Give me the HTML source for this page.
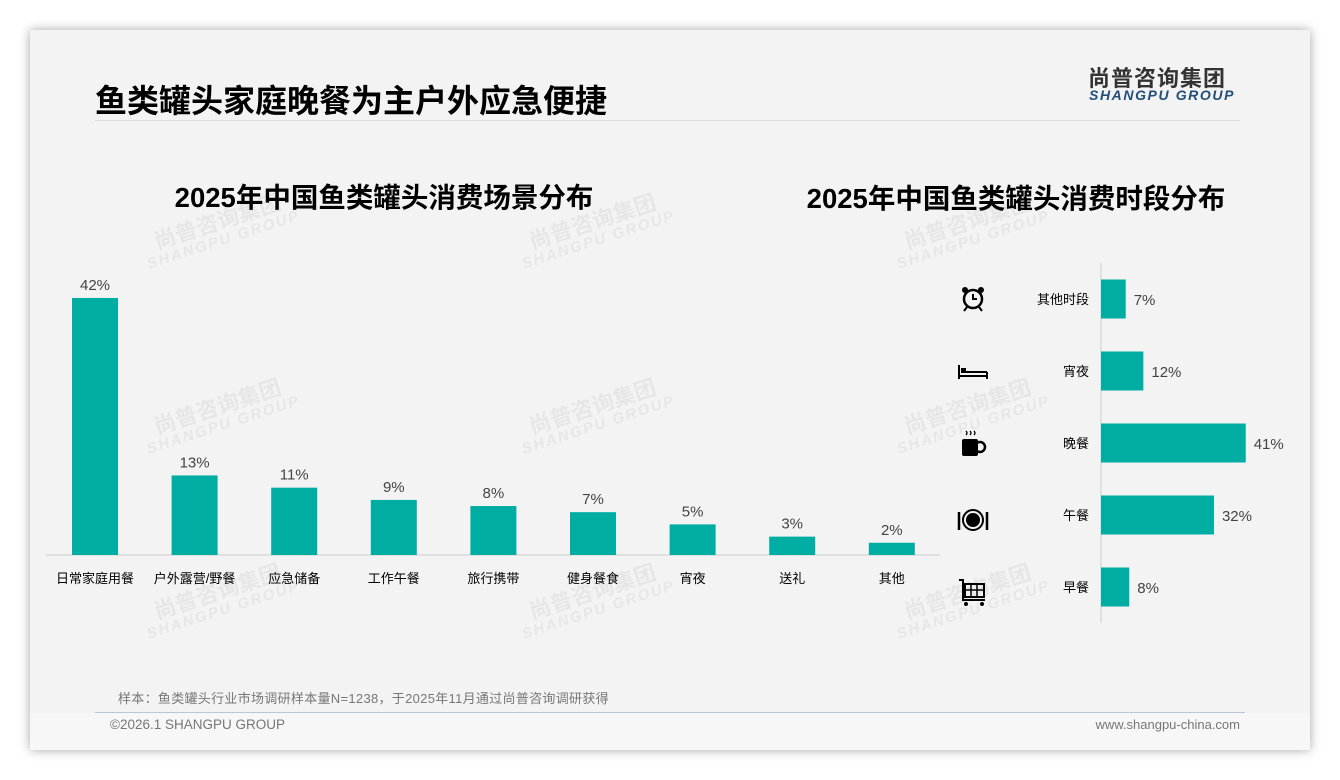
<!DOCTYPE html>
<html><head><meta charset="utf-8"><style>
body{margin:0;width:1340px;height:780px;background:#fff;font-family:"Liberation Sans","Noto Sans CJK SC",sans-serif;position:relative;overflow:hidden}
#card{position:absolute;left:30px;top:30px;width:1280px;height:720px;background:#f3f3f3;box-shadow:0 0 10px rgba(0,0,0,.35)}
.abs{position:absolute;white-space:nowrap}
.wm{position:absolute;color:rgba(0,0,0,.05);font-weight:bold;transform:rotate(-18deg);line-height:1.05;font-size:22px;text-align:center}
.wm span{font-size:15px;letter-spacing:2px;display:block;font-style:italic}
</style></head><body>
<div id="card"></div>
<div class="abs" style="left:95px;top:76px;font-size:32px;font-weight:bold;color:#000">鱼类罐头家庭晚餐为主户外应急便捷</div>
<div class="abs" style="left:1088px;top:61px;font-size:22px;font-weight:bold;color:#333;letter-spacing:1px">尚普咨询集团</div>
<div class="abs" style="left:1089px;top:87px;font-size:14px;font-weight:bold;font-style:italic;color:#1f4e79;letter-spacing:1.6px">SHANGPU GROUP</div>
<div class="abs" style="left:95px;top:120px;width:1145px;height:1px;background:#ddd"></div>
<div class="wm" style="left:140px;top:210px">尚普咨询集团<span>SHANGPU GROUP</span></div>
<div class="wm" style="left:515px;top:210px">尚普咨询集团<span>SHANGPU GROUP</span></div>
<div class="wm" style="left:890px;top:210px">尚普咨询集团<span>SHANGPU GROUP</span></div>
<div class="wm" style="left:140px;top:395px">尚普咨询集团<span>SHANGPU GROUP</span></div>
<div class="wm" style="left:515px;top:395px">尚普咨询集团<span>SHANGPU GROUP</span></div>
<div class="wm" style="left:890px;top:395px">尚普咨询集团<span>SHANGPU GROUP</span></div>
<div class="wm" style="left:140px;top:580px">尚普咨询集团<span>SHANGPU GROUP</span></div>
<div class="wm" style="left:515px;top:580px">尚普咨询集团<span>SHANGPU GROUP</span></div>
<div class="wm" style="left:890px;top:580px">尚普咨询集团<span>SHANGPU GROUP</span></div>
<div class="abs" style="left:384px;top:175px;transform:translateX(-50%);font-size:27.5px;font-weight:bold;color:#000">2025年中国鱼类罐头消费场景分布</div>
<div class="abs" style="left:1016px;top:176px;transform:translateX(-50%);font-size:27.5px;font-weight:bold;color:#000">2025年中国鱼类罐头消费时段分布</div>
<svg id="chart" width="1340" height="780" style="position:absolute;left:0;top:0">
<g transform="translate(973,299)"><circle r="9" fill="none" stroke="#000" stroke-width="2.5"/><path d="M0,-5V0H4" stroke="#000" stroke-width="2" fill="none"/><circle cx="-8" cy="-9" r="3" fill="#000"/><circle cx="8" cy="-9" r="3" fill="#000"/><path d="M-6,8l-3,4M6,8l3,4" stroke="#000" stroke-width="2"/></g>
<g transform="translate(973,371)"><path d="M-14,-6V8M14,1V8M-14,5H14M-12,1H14" stroke="#000" stroke-width="2" fill="none"/><rect x="-12" y="-3" width="5" height="4" fill="#000"/></g>
<g transform="translate(973,443)"><rect x="-11" y="-4" width="16" height="17" rx="2" fill="#000"/><circle cx="7" cy="4" r="5" fill="none" stroke="#000" stroke-width="2.5"/><path d="M-7,-12q2,2 0,4M-3,-12q2,2 0,4M1,-12q2,2 0,4" stroke="#000" stroke-width="1.3" fill="none"/></g>
<g transform="translate(973,520)"><circle r="10" fill="none" stroke="#000" stroke-width="2"/><circle r="7" fill="#000"/><path d="M-14,-8V10M14,-8V10" stroke="#000" stroke-width="2.5"/></g>
<g transform="translate(973,592)"><path d="M-14,-12H-10V8H12" stroke="#000" stroke-width="2" fill="none"/><rect x="-8" y="-8" width="19" height="13" fill="none" stroke="#000" stroke-width="2"/><path d="M-2,-8V5M4,-8V5M-8,-2H11" stroke="#000" stroke-width="1.5"/><circle cx="-7" cy="12" r="2" fill="#000"/><circle cx="9" cy="12" r="2" fill="#000"/></g>
</svg>
<div class="abs" style="left:118px;top:688px;font-size:13px;color:#777;letter-spacing:0.3px">样本：鱼类罐头行业市场调研样本量N=1238，于2025年11月通过尚普咨询调研获得</div>
<div class="abs" style="left:95px;top:712px;width:1150px;height:1px;background:#b8c8d8"></div>
<div class="abs" style="left:30px;top:713px;width:1280px;height:37px;background:#f7f7f7"></div>
<div class="abs" style="left:110px;top:717px;font-size:13.5px;color:#777">©2026.1 SHANGPU GROUP</div>
<div class="abs" style="left:1240px;top:717px;transform:translateX(-100%);font-size:13px;color:#777">www.shangpu-china.com</div>
<script>
const sceneCats=["日常家庭用餐","户外露营/野餐","应急储备","工作午餐","旅行携带","健身餐食","宵夜","送礼","其他"];
const sceneVals=[42,13,11,9,8,7,5,3,2];
const timeCats=["其他时段","宵夜","晚餐","午餐","早餐"];
const timeVals=[7,12,41,32,8];
const NS="http://www.w3.org/2000/svg",svg=document.getElementById('chart');
function mk(t,a){const e=document.createElementNS(NS,t);for(const k in a)e.setAttribute(k,a[k]);svg.appendChild(e);return e;}
const base=555,yS=v=>base-v*6.12,xC=i=>95+i*99.6;
const ax=mk('line',{x1:46,x2:940,y1:base,y2:base,stroke:'#ccc'});

sceneVals.forEach((v,i)=>{
 const r=mk('rect',{x:xC(i)-23,y:yS(v),width:46,height:base-yS(v),fill:'#00ada3'});
 
 const t=mk('text',{x:xC(i),y:yS(v)-8,'text-anchor':'middle','font-size':15,fill:'#444'});t.textContent=v+'%';
 
 const c=mk('text',{x:xC(i),y:583,'text-anchor':'middle','font-size':13,fill:'#000'});c.textContent=sceneCats[i];
 
});
const x0=1101,xS=v=>v*3.53,yC=i=>299+i*72;
const ay=mk('line',{x1:x0,x2:x0,y1:263,y2:623,stroke:'#ccc'});

timeVals.forEach((v,i)=>{
 const r=mk('rect',{x:x0,y:yC(i)-19.5,width:xS(v),height:39,fill:'#00ada3'});
 
 const t=mk('text',{x:x0+xS(v)+8,y:yC(i)+6,'font-size':15,fill:'#444'});t.textContent=v+'%';
 
 const c=mk('text',{x:1089,y:yC(i)+5,'text-anchor':'end','font-size':13,fill:'#000'});c.textContent=timeCats[i];
 
});
</script>
</body></html>
